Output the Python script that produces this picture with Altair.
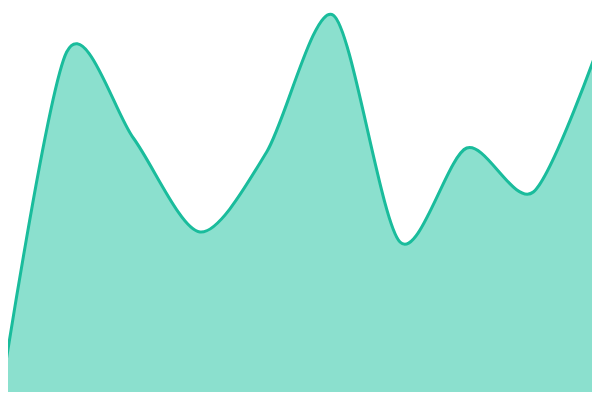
import altair as alt
import pandas as pd

idx = [0, 1, 2, 3, 4, 5, 6, 7, 8, 9]
values = [0, 87, 65.5, 42, 62, 96.2, 39.5, 63, 52, 89.5]

df = pd.DataFrame({"i": idx, "v": values})

chart = alt.Chart(df).mark_area(
    interpolate="cardinal",
    tension=0.15,
    color="#8be0ce",
    opacity=1,
    clip=True,
    line={"color": "#1abc9c", "strokeWidth": 3},
).encode(
    x=alt.X("i:Q", axis=None, scale=alt.Scale(domain=[0.12, 8.88], nice=False, zero=False)),
    y=alt.Y("v:Q", axis=None, scale=alt.Scale(domain=[2, 98], nice=False, zero=False)),
).properties(
    width=584, height=384,
    autosize=alt.AutoSizeParams(type="none"),
    padding=0,
).configure_view(stroke=None)

chart.save("out.html", embed_options={"renderer": "svg", "actions": False})
